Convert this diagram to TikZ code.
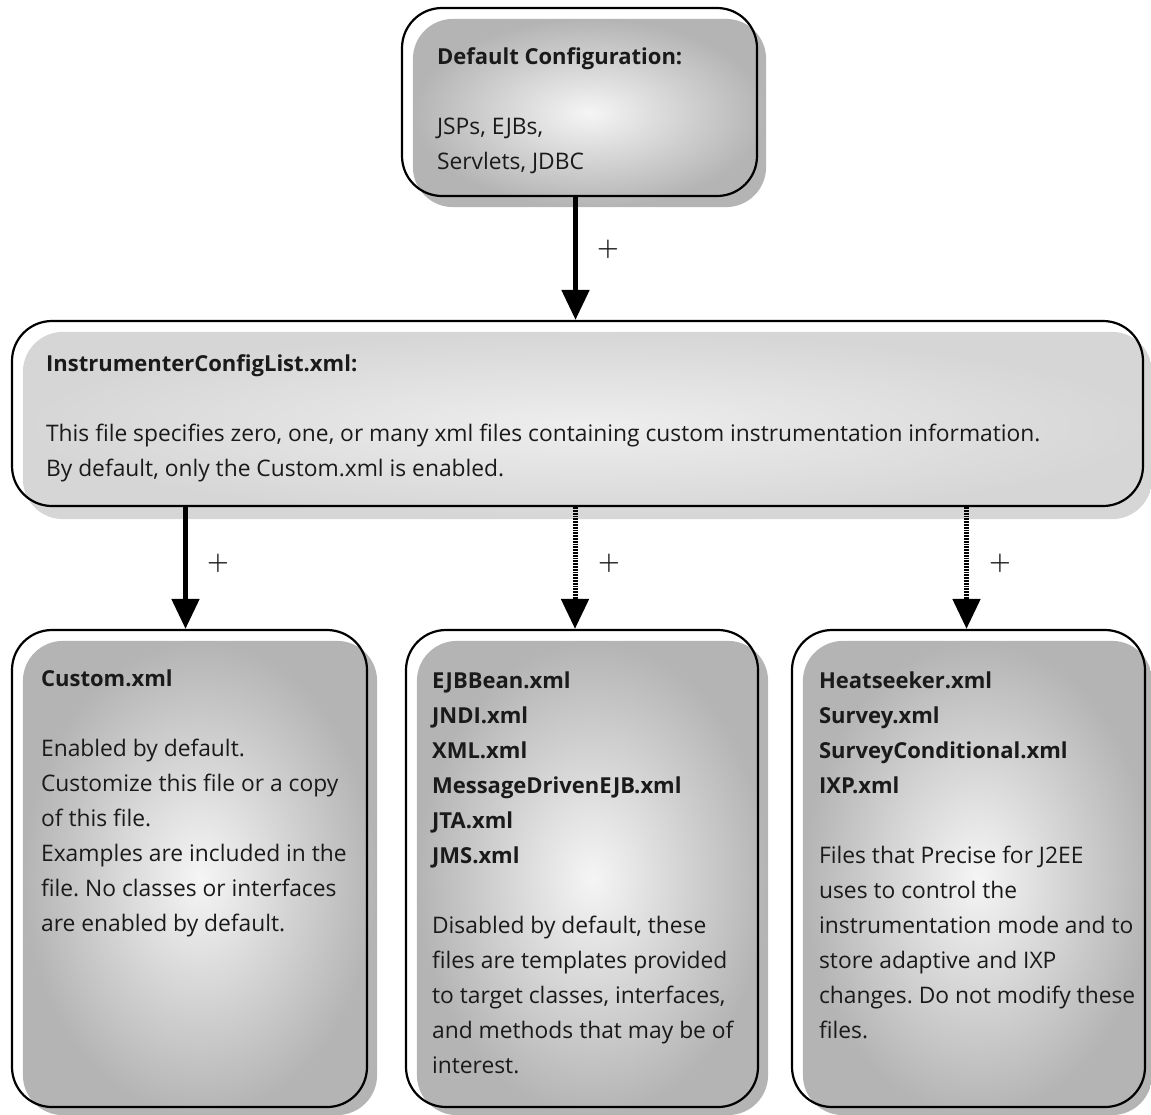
\documentclass[tikz,border=0pt]{standalone}
\usepackage{fontspec}
\setmainfont{Open Sans}
\usetikzlibrary{arrows.meta,calc}
\definecolor{txt}{HTML}{1A1A1A}
\definecolor{boxin}{HTML}{F5F5F5}
\definecolor{boxout}{HTML}{B4B4B4}
\definecolor{wideout}{HTML}{D6D6D6}
\definecolor{widein}{HTML}{EEEEEE}
\newcommand\hd[1]{{\fontsize{22}{35}\selectfont\bfseries #1}}
\pgfdeclarelayer{bg}
\pgfsetlayers{bg,main}
\begin{document}
\begin{tikzpicture}[x=1pt,y=-1pt,
  box/.style={draw=black, line width=2.2pt, rounded corners=40pt, inner sep=0pt},
  shadebox/.style={rounded corners=40pt, shading=radial, inner color=boxin, outer color=boxout},
  wideshade/.style={rounded corners=40pt, shading=radial, inner color=widein, outer color=wideout},
  txtnode/.style={anchor=base west, inner sep=0pt, align=left, text=txt,
     font=\fontsize{22.8}{35}\selectfont\frenchspacing},
  plusmark/.style={inner sep=0pt, font=\fontsize{33}{33}\selectfont\boldmath, text=txt},
  solidarrow/.style={line width=5pt, -{Triangle[length=30pt,width=27pt]}},
  dotarrow/.style={line width=5pt, dash pattern=on 1.8pt off 1.0pt, -{Triangle[length=30pt,width=27pt]}},
  ]
\useasboundingbox (0,0) rectangle (1151,1114);
% boxes (outlines as nodes)
\node[box, minimum width=355pt, minimum height=188pt] (cfg)  at (579.5,102) {};
\node[box, minimum width=1131pt, minimum height=185pt] (icl) at (577.5,413.5) {};
\node[box, minimum width=355pt, minimum height=477pt] (cust) at (189.5,868.5) {};
\node[box, minimum width=352pt, minimum height=477pt] (ejb)  at (582,868.5) {};
\node[box, minimum width=353pt, minimum height=477pt] (heat) at (968.5,868.5) {};
% shaded fills (behind)
\begin{pgfonlayer}{bg}
  \path[shadebox] ($(cfg.north west)+(12,12)$) rectangle ($(cfg.south east)+(8,10)$);
  \path[wideshade] ($(icl.north west)+(12,12)$) rectangle ($(icl.south east)+(8,12)$);
  \path[shadebox] ($(cust.north west)+(12,12)$) rectangle ($(cust.south east)+(9,7)$);
  \path[shadebox] ($(ejb.north west)+(12,12)$) rectangle ($(ejb.south east)+(9,7)$);
  \path[shadebox] ($(heat.north west)+(12,12)$) rectangle ($(heat.south east)+(6,7)$);
\end{pgfonlayer}
% texts (anchored at the baseline of their last line)
\node[txtnode] (cfgt) at ($(cfg.north west)+(36,163)$)
  {\hd{Default Configuration:}\\[35pt]JSPs, EJBs,\\Servlets, JDBC};
\node[txtnode] (iclt) at ($(icl.north west)+(35,157)$)
  {\hd{InstrumenterConfigList.xml:}\\[35pt]This file specifies zero, one, or many xml files containing custom instrumentation information.\\By default, only the Custom.xml is enabled.};
\node[txtnode] (custt) at ($(cust.north west)+(30,303)$)
  {\hd{Custom.xml}\\[35pt]Enabled by default.\\Customize this file or a copy\\of this file.\\Examples are included in the\\file. No classes or interfaces\\are enabled by default.};
\node[txtnode] (ejbt) at ($(ejb.north west)+(27,445)$)
  {\hd{EJBBean.xml}\\\hd{JNDI.xml}\\\hd{XML.xml}\\\hd{MessageDrivenEJB.xml}\\\hd{JTA.xml}\\\hd{JMS.xml}\\[35pt]Disabled by default, these\\files are templates provided\\to target classes, interfaces,\\and methods that may be of\\interest.};
\node[txtnode] (heatt) at ($(heat.north west)+(28,410)$)
  {\hd{Heatseeker.xml}\\\hd{Survey.xml}\\\hd{SurveyConditional.xml}\\\hd{IXP.xml}\\[35pt]Files that Precise for J2EE\\uses to control the\\instrumentation mode and to\\store adaptive and IXP\\changes. Do not modify these\\files.};
% connectors
\draw[solidarrow] ([xshift=-4pt]cfg.south) -- ([xshift=-4pt]cfg.south |- icl.north);
\draw[solidarrow] ([xshift=-4pt]cust.north |- icl.south) -- ([xshift=-4pt]cust.north);
\draw[dotarrow] ([xshift=-7pt]ejb.north |- icl.south) -- ([xshift=-7pt]ejb.north);
\draw[dotarrow] ([xshift=-2pt]heat.north |- icl.south) -- ([xshift=-2pt]heat.north);
% plus labels
\node[plusmark] (p1) at (608,249) {$+$};
\node[plusmark] (p2) at (218,563) {$+$};
\node[plusmark] (p3) at (609,563) {$+$};
\node[plusmark] (p4) at (1000,563) {$+$};
\end{tikzpicture}
\end{document}
